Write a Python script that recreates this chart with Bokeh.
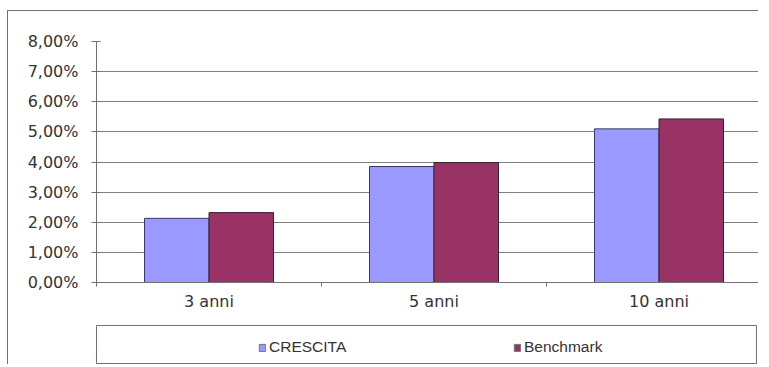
from bokeh.plotting import figure
from bokeh.layouts import column
from bokeh.models import Range1d, FixedTicker, Legend, LegendItem
from bokeh.embed import file_html
from bokeh.resources import INLINE

categories = ["3 anni", "5 anni", "10 anni"]
crescita = [2.13, 3.85, 5.10]
benchmark = [2.32, 3.98, 5.43]
y_ticks = [0, 1, 2, 3, 4, 5, 6, 7, 8]
y_tick_labels = ["0,00%", "1,00%", "2,00%", "3,00%", "4,00%", "5,00%", "6,00%", "7,00%", "8,00%"]
series_names = ["CRESCITA", "Benchmark"]
colors = ["#9999FF", "#993366"]
edge_colors = ["#3a3a6a", "#3a2030"]

H = 364                  # stay inside the 769x367 window (no scrollbars)
OX, OY = 8, 11           # content origin inside the outer border
FL, FT, FB = 96, 41, 282
FR = 758                 # right end of the plot frame
FIG_BOTTOM = 318
frame_w = FR - FL
group_px = 225.0
grey = "#707070"
font = "DejaVu Sans"

p = figure(frame_width=frame_w, frame_height=FB - FT, output_backend="svg",
           toolbar_location=None,
           x_range=Range1d(0, frame_w / group_px), y_range=Range1d(0, 8),
           min_border_left=FL - OX, min_border_right=0, min_border_top=FT - OY,
           min_border_bottom=FIG_BOTTOM - FB)
p.outline_line_color = None

bw = 64.5 / group_px
centers = [i + 0.5 for i in range(len(categories))]
r1 = p.vbar(x=[c - bw / 2 for c in centers], top=crescita, width=bw,
            fill_color=colors[0], line_color=edge_colors[0], line_width=1)
r2 = p.vbar(x=[c + bw / 2 for c in centers], top=benchmark, width=bw,
            fill_color=colors[1], line_color=edge_colors[1], line_width=1)

p.yaxis.ticker = FixedTicker(ticks=y_ticks)
p.yaxis.major_label_overrides = {t: l for t, l in zip(y_ticks, y_tick_labels)}
p.yaxis.major_tick_out = 5
p.yaxis.major_tick_in = 4
p.yaxis.minor_tick_line_color = None
p.yaxis.major_label_standoff = 13
p.yaxis.axis_line_color = grey
p.yaxis.major_tick_line_color = grey
p.yaxis.major_label_text_font = font
p.yaxis.major_label_text_font_size = "16px"
p.yaxis.major_label_text_color = "#333333"

p.xaxis.ticker = FixedTicker(ticks=centers, minor_ticks=[0, 1, 2])
p.xaxis.major_label_overrides = {c: n for c, n in zip(centers, categories)}
p.xaxis.major_tick_line_color = None
p.xaxis.major_tick_out = 0
p.xaxis.major_tick_in = 0
p.xaxis.minor_tick_out = 4
p.xaxis.minor_tick_in = 0
p.xaxis.minor_tick_line_color = grey
p.xaxis.axis_line_color = grey
p.xaxis.major_label_standoff = 5
p.xaxis.major_label_text_font = font
p.xaxis.major_label_text_font_size = "16px"
p.xaxis.major_label_text_color = "#333333"

p.xgrid.grid_line_color = None
p.ygrid.grid_line_color = "#808080"
p.ygrid.grid_line_width = 1

# legend panel: its frame is the legend box
LB_L, LB_R, LB_T, LB_B = 96, 757, 325, 363
q = figure(frame_width=LB_R - LB_L, frame_height=LB_B - LB_T, output_backend="svg",
           toolbar_location=None,
           x_range=Range1d(0, 1), y_range=Range1d(0, 1),
           x_axis_location=None, y_axis_location=None,
           min_border_left=LB_L - OX, min_border_right=0,
           min_border_top=LB_T - FIG_BOTTOM, min_border_bottom=H - LB_B)
q.outline_line_color = grey
q.xgrid.grid_line_color = None
q.ygrid.grid_line_color = None

swatch_x = [258, 513]
for name, col, sx in zip(series_names, colors, swatch_x):
    # dummy bar kept outside the visible range; only its legend swatch is shown
    rr = q.vbar(x=[-5], top=[0.5], width=0.1, fill_color=col, line_color="#777777")
    lg = Legend(items=[LegendItem(label=name, renderers=[rr])], location=(sx - LB_L, 7),
                orientation="horizontal", border_line_color=None,
                background_fill_alpha=0, padding=0, margin=0,
                glyph_width=8, glyph_height=9, label_standoff=3,
                label_height=16, label_text_font="Liberation Sans",
                label_text_font_size="15.5px", label_text_color="#333333")
    q.add_layout(lg, "center")

layout = column(p, q, spacing=0,
                margin=(OY - 1, 0, 0, OX - 1),
                styles={"border-top": "1px solid " + grey, "border-left": "1px solid " + grey})

open("out.html", "w").write(file_html(layout, INLINE))
